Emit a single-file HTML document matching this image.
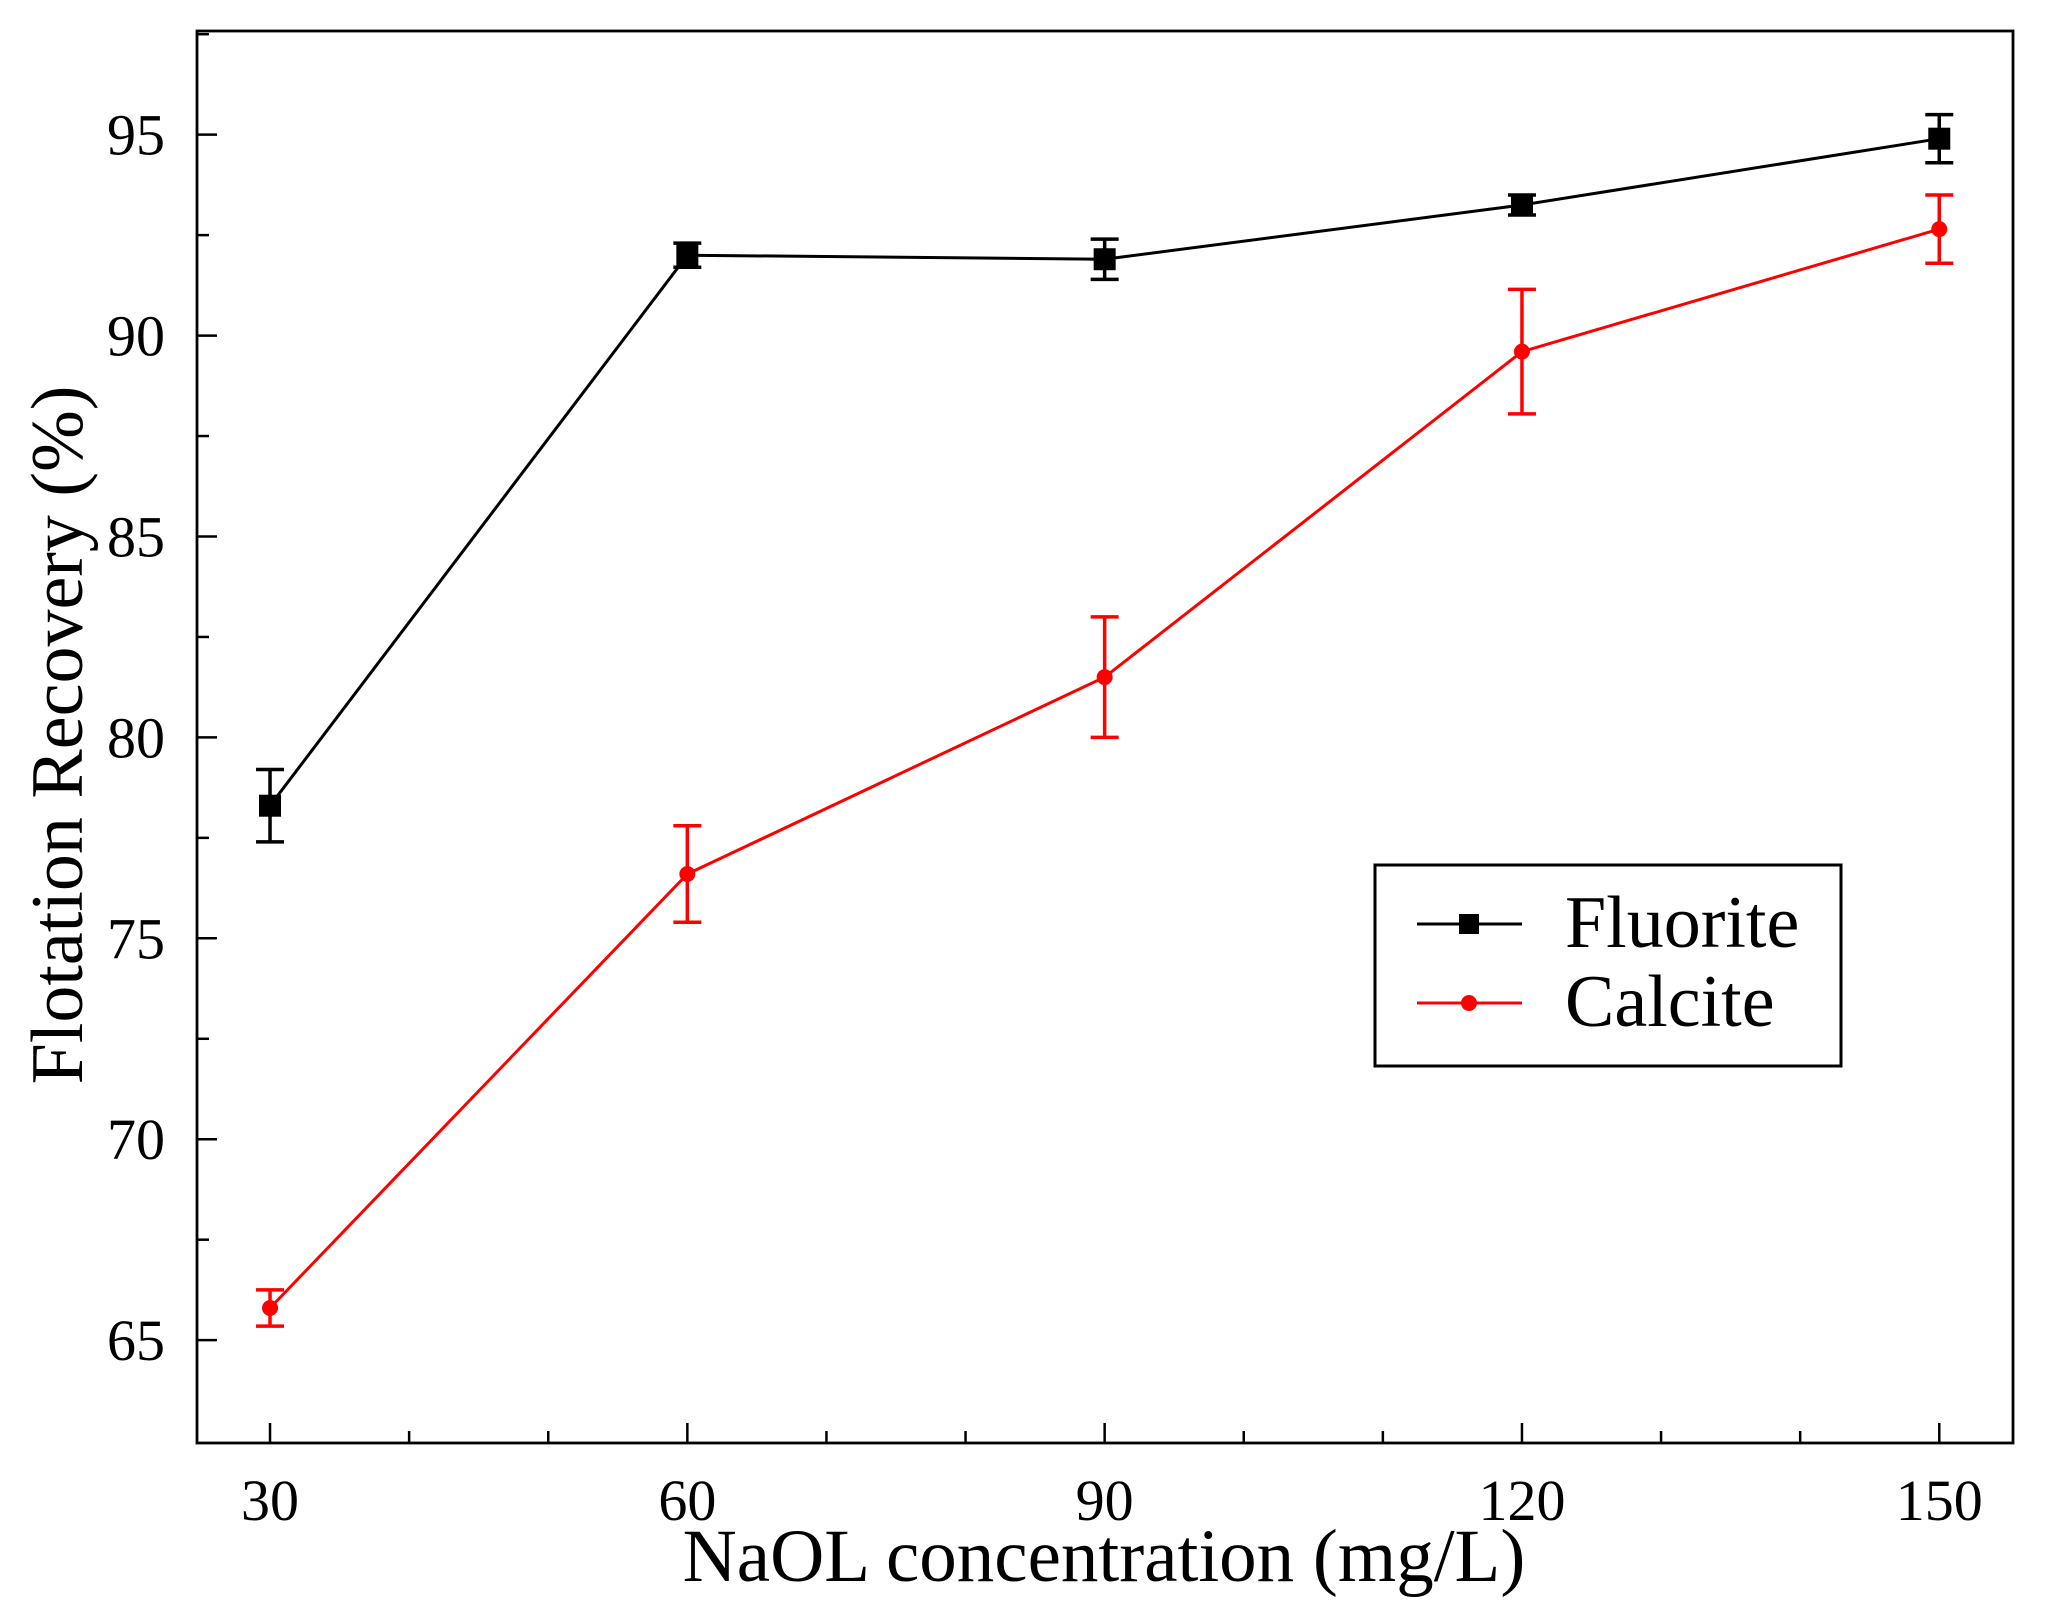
<!DOCTYPE html>
<html><head><meta charset="utf-8"><style>
html,body{margin:0;padding:0;background:#fff;}
svg{display:block;font-family:"Liberation Serif",serif;}
</style></head><body>
<svg id="chart" width="2048" height="1622" viewBox="0 0 2048 1622">
<rect x="197" y="31" width="1816" height="1412" fill="none" stroke="#000" stroke-width="2.8"/>
<g id="axes"></g>
<g id="series"></g>
<text x="82" y="735" font-size="74" text-anchor="middle" transform="rotate(-90 82 735)">Flotation Recovery (%)</text>
<text x="1104" y="1581" font-size="75" text-anchor="middle">NaOL concentration (mg/L)</text>
<g>
<rect x="1375" y="865" width="466" height="201" fill="#fff" stroke="#000" stroke-width="3"/>
<g>
<line x1="1417" y1="924" x2="1522" y2="924" stroke="#000" stroke-width="3"/>
<rect x="1459" y="914" width="20" height="20" fill="#000"/>
<text x="1565" y="947" font-size="74">Fluorite</text></g>
<g>
<line x1="1417" y1="1003" x2="1522" y2="1003" stroke="#f00" stroke-width="3"/>
<circle cx="1469" cy="1003" r="8" fill="#f00"/>
<text x="1565" y="1026" font-size="74">Calcite</text></g>
</g>
</svg>
<script>
const xCategories=[30,60,90,120,150];
const fluoriteValues=[78.3,92.0,91.9,93.25,94.9];
const fluoriteErrors=[0.9,0.3,0.5,0.25,0.6];
const calciteValues=[65.8,76.6,81.5,89.6,92.65];
const calciteErrors=[0.45,1.2,1.5,1.55,0.85];
const yTickLabels=[65,70,75,80,85,90,95];
const xTickLabels=[30,60,90,120,150];

const NS='http://www.w3.org/2000/svg';
const X0=197,X1=2013,Y0=1443,Y1=31,XMIN=24.75,XMAX=155.3,YMIN=62.44,YMAX=97.58;
const sx=v=>X0+(v-XMIN)/(XMAX-XMIN)*(X1-X0);
const sy=v=>Y0-(v-YMIN)/(YMAX-YMIN)*(Y0-Y1);
function mk(tag,attrs,parent){const e=document.createElementNS(NS,tag);for(const k in attrs)e.setAttribute(k,attrs[k]);parent.appendChild(e);return e;}
const axes=document.getElementById('axes');
for(let v=30;v<=150;v+=10){
  const major=xTickLabels.includes(v);
  const t=mk('line',{x1:sx(v),x2:sx(v),y1:Y0,y2:Y0-(major?20:12),stroke:'#000','stroke-width':2.5},axes);
  
  
}
xTickLabels.forEach(v=>{
  const t=mk('text',{x:sx(v),y:1520,'font-size':58,'text-anchor':'middle'},axes);t.textContent=v;
  
  
});
for(let v=65;v<=97.5;v+=2.5){
  const major=yTickLabels.includes(v);
  const t=mk('line',{x1:X0,x2:X0+(major?20:12),y1:sy(v),y2:sy(v),stroke:'#000','stroke-width':2.5},axes);
  
  
}
yTickLabels.forEach(v=>{
  const t=mk('text',{x:165,y:sy(v)+20,'font-size':58,'text-anchor':'end'},axes);t.textContent=v;
  
  
});
const ser=document.getElementById('series');
function drawSeries(vals,errs,color,name,square){
  const g=mk('g',{},ser);
  
  
  const pl=mk('polyline',{points:xCategories.map((x,i)=>sx(x)+','+sy(vals[i])).join(' '),fill:'none',stroke:color,'stroke-width':3},g);
  
  
  xCategories.forEach((x,i)=>{
    const cx=sx(x),top=sy(vals[i]+errs[i]),bot=sy(vals[i]-errs[i]);
    const e=mk('path',{d:`M${cx},${top}V${bot}M${cx-14},${top}H${cx+14}M${cx-14},${bot}H${cx+14}`,stroke:color,'stroke-width':3.5,fill:'none'},g);
    
    
    const m=square?mk('rect',{x:cx-11,y:sy(vals[i])-11,width:22,height:22,fill:color},g):mk('circle',{cx:cx,cy:sy(vals[i]),r:8,fill:color},g);
    
    
  });
}
drawSeries(fluoriteValues,fluoriteErrors,'#000','fluorite',true);
drawSeries(calciteValues,calciteErrors,'#f00','calcite',false);
</script>
</body></html>
